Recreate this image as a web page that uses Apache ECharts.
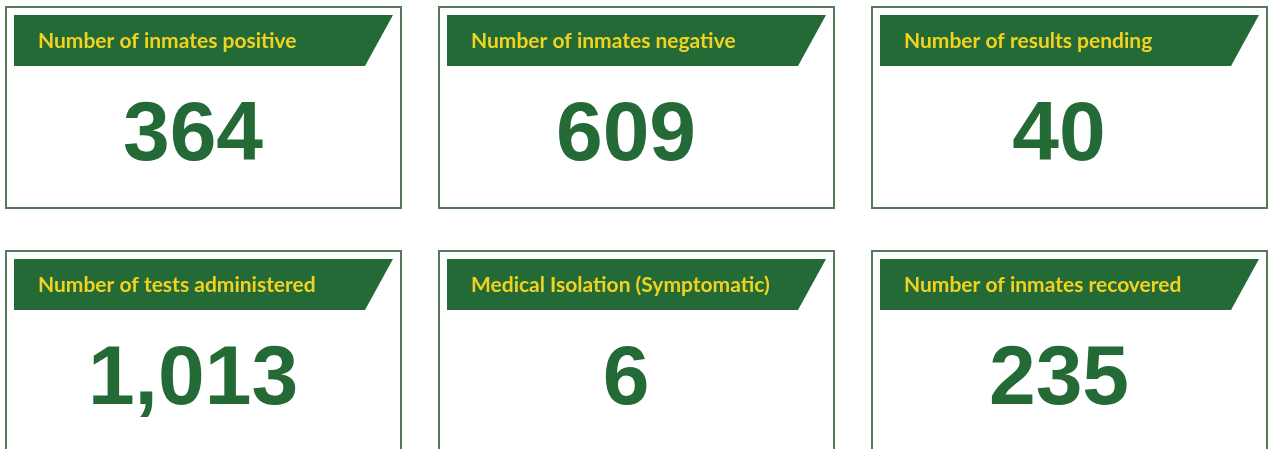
<!DOCTYPE html>
<html>
<head>
<meta charset="utf-8">
<script src="https://cdn.jsdelivr.net/npm/echarts@6/dist/echarts.min.js"></script>
<style>
    html, body { margin: 0; padding: 0; background: #fff; }
    #chart { width: 1271px; height: 449px; }
</style>
</head>
<body>
<div id="chart"></div>
<script>
// card titles and values, read left to right, top to bottom
const titles = [
    'Number of inmates positive',
    'Number of inmates negative',
    'Number of results pending',
    'Number of tests administered',
    'Medical Isolation (Symptomatic)',
    'Number of inmates recovered',
]
const values = [364, 609, 40, 1013, 6, 235]

const green = '#246a36'
const yellow = '#f2d21f'
const border = '#56795c'

const cardW = 395
const cardH = 201
const colX = [6, 439, 872]
const rowY = [7, 251]

const chart = echarts.init(document.getElementById('chart'), null, { renderer: 'canvas' })

let elements = []
titles.forEach((title, i) => {
    let x = colX[i % 3]
    let y = rowY[Math.floor(i / 3)]
    // card frame
    elements.push({
        type: 'rect',
        shape: { x: x, y: y, width: cardW, height: cardH },
        style: { fill: '#fff', stroke: border, lineWidth: 2 },
    })
    // slanted banner
    elements.push({
        type: 'polygon',
        shape: {
            points: [[x + 8, y + 8], [x + 387, y + 8], [x + 359, y + 59], [x + 8, y + 59]],
        },
        style: { fill: green },
    })
    elements.push({
        type: 'text',
        x: x + 32,
        y: y + 34,
        style: {
            text: title,
            fill: yellow,
            font: 'bold 21px Lato',
            align: 'left',
            verticalAlign: 'middle',
        },
    })
    // big number
    elements.push({
        type: 'text',
        x: x + 187,
        y: y + 130,
        style: {
            text: values[i].toLocaleString('en-US'),
            fill: green,
            font: 'bold 84px "Liberation Sans"',
            align: 'center',
            verticalAlign: 'middle',
        },
    })
})

chart.setOption({
    backgroundColor: '#fff',
    animation: false,
    graphic: { elements: elements },
})

window.addEventListener('resize', () => {
    chart.resize()
})
</script>
</body>
</html>
